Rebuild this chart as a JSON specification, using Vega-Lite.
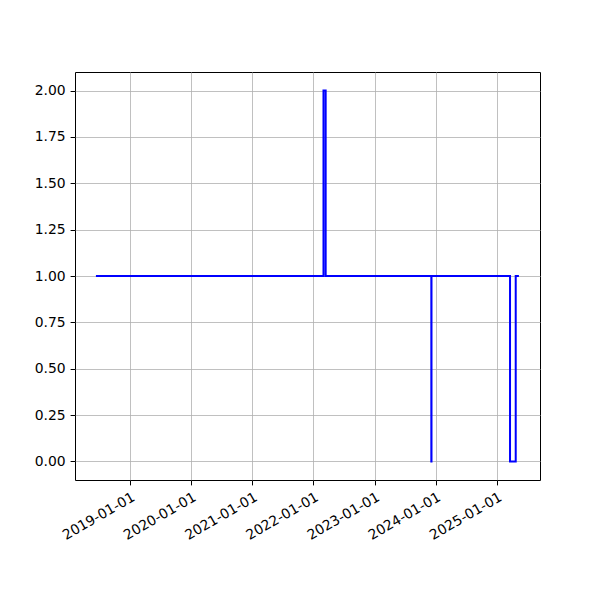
{
  "$schema": "https://vega.github.io/schema/vega-lite/v6.json",
  "width": 465,
  "height": 408,
  "autosize": {"type": "none"},
  "padding": {"left": 75, "top": 72, "right": 60, "bottom": 120},
  "background": "white",
  "config": {
    "view": {"stroke": "black", "strokeWidth": 1},
    "font": "DejaVu Sans",
    "axis": {
      "labelFont": "DejaVu Sans",
      "labelFontSize": 13.9,
      "labelColor": "black",
      "tickColor": "black",
      "tickSize": 4.9,
      "labelPadding": 4.9,
      "domain": false,
      "grid": true,
      "gridColor": "#b0b0b0",
      "gridWidth": 0.8,
      "title": null
    }
  },
  "data": {
    "values": [
      {"date": "2018-06-12", "value": 1},
      {"date": "2022-03-02", "value": 2},
      {"date": "2022-03-15", "value": 1},
      {"date": "2023-12-06", "value": 0},
      {"date": "2023-12-07", "value": 1},
      {"date": "2025-03-20", "value": 0},
      {"date": "2025-04-23", "value": 1},
      {"date": "2025-05-12", "value": 1}
    ]
  },
  "mark": {"type": "line", "interpolate": "step-after", "color": "#0000ff", "strokeWidth": 2, "clip": true},
  "encoding": {
    "x": {
      "field": "date",
      "type": "temporal",
      "scale": {"domain": [{"year": 2018, "month": 2, "date": 7, "utc": true}, {"year": 2025, "month": 9, "date": 15, "utc": true}]},
      "axis": {
        "format": "%Y-%m-%d",
        "values": [
          {"year": 2019, "month": 1, "date": 1, "utc": true},
          {"year": 2020, "month": 1, "date": 1, "utc": true},
          {"year": 2021, "month": 1, "date": 1, "utc": true},
          {"year": 2022, "month": 1, "date": 1, "utc": true},
          {"year": 2023, "month": 1, "date": 1, "utc": true},
          {"year": 2024, "month": 1, "date": 1, "utc": true},
          {"year": 2025, "month": 1, "date": 1, "utc": true}
        ],
        "labelAngle": -30,
        "labelAlign": "right",
        "labelBaseline": "top",
        "labelOverlap": false,
        "labelFlush": false
      }
    },
    "y": {
      "field": "value",
      "type": "quantitative",
      "scale": {"domain": [-0.1, 2.1], "nice": false, "zero": false},
      "axis": {
        "values": [0, 0.25, 0.5, 0.75, 1, 1.25, 1.5, 1.75, 2],
        "format": ".2f"
      }
    }
  }
}
